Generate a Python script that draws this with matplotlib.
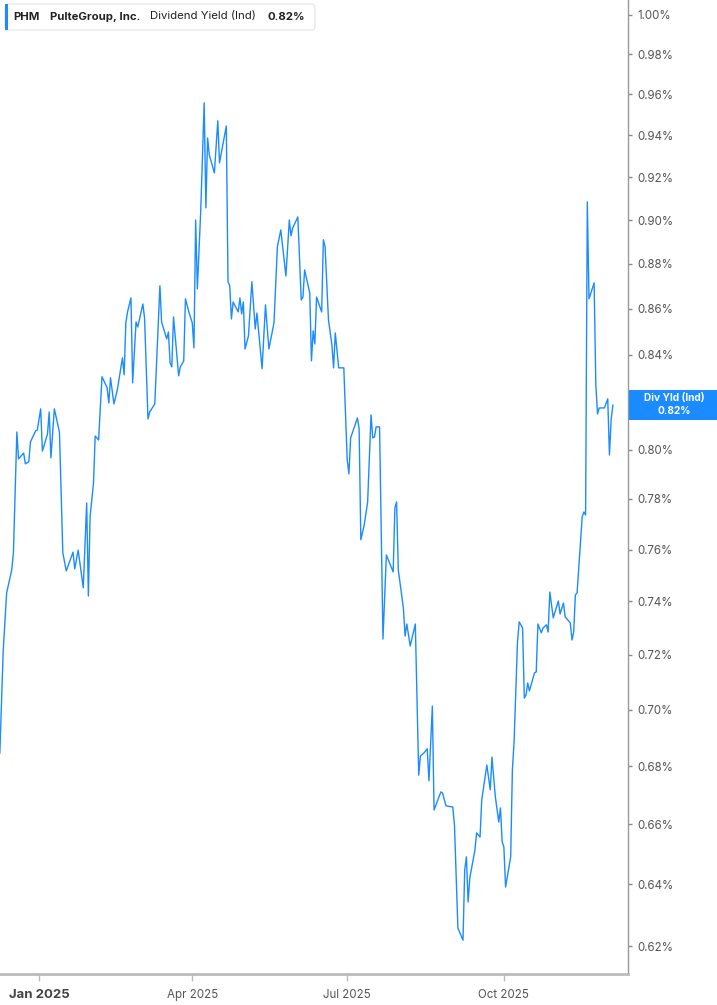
import matplotlib
matplotlib.use("Agg")
import matplotlib.pyplot as plt
from matplotlib.patches import FancyBboxPatch, Rectangle
from matplotlib.ticker import FixedLocator, NullLocator
import pandas as pd

plt.rcParams['font.family'] = ['Inter', 'DejaVu Sans']

# days since 2025-01-01
days = [-23, -21, -19, -16, -15, -13, -12, -9, -8, -6, -5, -2, -1, 1, 2, 5, 6, 7, 9, 12,
        14, 16, 20, 21, 23, 26, 28, 29, 30, 32, 33, 35, 37, 40, 41, 42, 44, 46, 49, 50,
        51, 52, 54, 55, 57, 58, 61, 62, 64, 65, 68, 71, 72, 75, 76, 77, 78, 79, 82, 83,
        85, 86, 88, 90, 91, 92, 93, 95, 97, 98, 99, 100, 103, 105, 106, 110, 111, 112, 113, 114,
        117, 118, 119, 120, 121, 123, 125, 127, 128, 131, 133, 135, 138, 140, 142, 145, 147, 148, 149, 152,
        154, 155, 156, 159, 160, 161, 162, 163, 166, 167, 168, 170, 172, 173, 174, 176, 179, 181, 182, 183,
        187, 188, 189, 191, 193, 195, 196, 197, 198, 200, 202, 204, 208, 209, 210, 211, 214, 215, 216, 218,
        221, 223, 224, 226, 228, 229, 231, 232, 236, 237, 239, 243, 244, 246, 249, 250, 251, 252, 253, 256,
        257, 259, 260, 263, 265, 266, 268, 270, 271, 272, 273, 274, 277, 278, 279, 281, 282, 284, 285, 286,
        287, 288, 291, 292, 293, 295, 296, 298, 299, 300, 302, 305, 306, 308, 309, 312, 313, 314, 315, 316,
        319, 320, 321, 322, 323, 326, 327, 328, 329, 332, 334, 335, 336, 337]

# dividend yield, percent
div_yield = [0.6846, 0.7218, 0.7433, 0.7521, 0.7590, 0.8073, 0.7962, 0.7986, 0.7942, 0.7950,
             0.8032, 0.8077, 0.8081, 0.8169, 0.7994, 0.8065, 0.8156, 0.7966, 0.8169, 0.8073,
             0.7587, 0.7517, 0.7590, 0.7525, 0.7598, 0.7452, 0.7784, 0.7421, 0.7729, 0.7864,
             0.8056, 0.8040, 0.8305, 0.8258, 0.8194, 0.8300, 0.8190, 0.8249, 0.8386, 0.8313,
             0.8538, 0.8586, 0.8648, 0.8279, 0.8542, 0.8520, 0.8621, 0.8559, 0.8127, 0.8156,
             0.8190, 0.8702, 0.8542, 0.8468, 0.8498, 0.8364, 0.8347, 0.8564, 0.8309, 0.8347,
             0.8373, 0.8644, 0.8586, 0.8538, 0.8429, 0.9001, 0.8688, 0.9048, 0.9559, 0.9057,
             0.9388, 0.9307, 0.9221, 0.9471, 0.9269, 0.9446, 0.8720, 0.8702, 0.8555, 0.8630,
             0.8586, 0.8648, 0.8577, 0.8630, 0.8424, 0.8481, 0.8720, 0.8511, 0.8581, 0.8339,
             0.8617, 0.8424, 0.8538, 0.8878, 0.8955, 0.8746, 0.9001, 0.8928, 0.8964, 0.9015,
             0.8639, 0.8652, 0.8773, 0.8670, 0.8373, 0.8503, 0.8446, 0.8652, 0.8586, 0.8910,
             0.8878, 0.8551, 0.8442, 0.8343, 0.8494, 0.8343, 0.8343, 0.7958, 0.7901, 0.8048,
             0.8131, 0.8086, 0.7638, 0.7697, 0.7788, 0.8144, 0.8048, 0.8052, 0.8094, 0.8094,
             0.7259, 0.7579, 0.7513, 0.7764, 0.7788, 0.7521, 0.7375, 0.7270, 0.7315, 0.7233,
             0.7315, 0.6769, 0.6836, 0.6846, 0.6861, 0.6749, 0.7013, 0.6649, 0.6711, 0.6707,
             0.6663, 0.6659, 0.6597, 0.6258, 0.6219, 0.6447, 0.6491, 0.6342, 0.6421, 0.6514,
             0.6571, 0.6557, 0.6683, 0.6804, 0.6718, 0.6832, 0.6694, 0.6608, 0.6656, 0.6541,
             0.6524, 0.6391, 0.6491, 0.6787, 0.6885, 0.7248, 0.7323, 0.7300, 0.7042, 0.7053,
             0.7097, 0.7068, 0.7134, 0.7137, 0.7315, 0.7282, 0.7300, 0.7312, 0.7285, 0.7436,
             0.7338, 0.7402, 0.7353, 0.7394, 0.7342, 0.7319, 0.7255, 0.7285, 0.7425, 0.7433,
             0.7729, 0.7748, 0.7736, 0.9085, 0.8644, 0.8715, 0.8271, 0.8148, 0.8173, 0.8173,
             0.8211, 0.7978, 0.8123, 0.8185]

y_ticks = [0.62, 0.64, 0.66, 0.68, 0.70, 0.72, 0.74, 0.76, 0.78, 0.80,
           0.82, 0.84, 0.86, 0.88, 0.90, 0.92, 0.94, 0.96, 0.98, 1.00]
x_ticks = ['2025-01-01', '2025-04-01', '2025-07-01', '2025-10-01']
x_labels = ['Jan 2025', 'Apr 2025', 'Jul 2025', 'Oct 2025']
last_label = '0.82%'

base = pd.Timestamp('2025-01-01')
dates = base + pd.to_timedelta(days, unit='D')

W, H = 717, 1005
fig = plt.figure(figsize=(W / 100, H / 100), dpi=100)
ax = fig.add_axes([0, 31 / H, 628 / W, 974 / H])

blue = '#1a8cff'
ax.plot(dates, div_yield, color=blue, lw=1.0)

ax.set_yscale('log')
ax.set_ylim(0.6112, 1.0077)
ax.set_xlim(base + pd.Timedelta(days=-22.9), base + pd.Timedelta(days=345.9))

# the 0.82% tick label sits behind the last-value box, so leave it blank
ax.yaxis.set_major_locator(FixedLocator(y_ticks))
ax.yaxis.set_minor_locator(NullLocator())
ax.set_yticklabels(['' if f'{t:.2f}%' == last_label else f'{t:.2f}%' for t in y_ticks])
ax.yaxis.tick_right()
ax.tick_params(axis='y', which='major', length=3, width=1, color='#888888',
               labelsize=8.3, labelcolor='#555555', pad=4)

ax.set_xticks(pd.to_datetime(x_ticks))
ax.set_xticklabels(x_labels)
ax.tick_params(axis='x', length=5, width=1, color='#bbbbbb', labelsize=8.3,
               labelcolor='#555555', pad=6)
xl = ax.get_xticklabels()
xl[0].set_fontweight('bold')
xl[0].set_fontsize(9.5)
xl[0].set_color('#444444')

for s in ['top', 'left']:
    ax.spines[s].set_visible(False)
ax.spines['right'].set_color('#999999')
ax.spines['right'].set_linewidth(1)
ax.spines['bottom'].set_color('#bbbbbb')
ax.spines['bottom'].set_linewidth(2)

# legend box at top left
fig.patches.append(FancyBboxPatch((5 / W, 1 - 30 / H), 310 / W, 26 / H,
                                  boxstyle='round,pad=0,rounding_size=0.004',
                                  transform=fig.transFigure, facecolor='white',
                                  edgecolor='#e4e4e4', lw=0.8, zorder=5))
fig.patches.append(Rectangle((5 / W, 1 - 30 / H), 3 / W, 26 / H,
                             transform=fig.transFigure, facecolor=blue,
                             edgecolor='none', zorder=6))
ty = 1 - 16.5 / H
fs = 8.2
fig.text(13 / W, ty, 'PHM', fontsize=fs, fontweight='bold', color='#222222', va='center', zorder=7)
fig.text(50 / W, ty, 'PulteGroup, Inc.', fontsize=fs, fontweight='bold', color='#222222', va='center', zorder=7)
fig.text(150 / W, ty, 'Dividend Yield (Ind)', fontsize=fs, color='#222222', va='center', zorder=7)
fig.text(267 / W, ty, last_label, fontsize=fs, fontweight='bold', color='#222222', va='center', zorder=7)

# last value label on the right axis
fig.patches.append(Rectangle((629 / W, 1 - 420 / H), 88 / W, 30 / H,
                             transform=fig.transFigure, facecolor=blue,
                             edgecolor='none', zorder=6))
fig.text(674 / W, 1 - 398.5 / H, 'Div Yld (Ind)', fontsize=7.3, fontweight='bold',
         color='white', ha='center', va='center', zorder=7)
fig.text(674 / W, 1 - 411.5 / H, last_label, fontsize=7.3, fontweight='bold',
         color='white', ha='center', va='center', zorder=7)

fig.savefig('out.png', dpi=100)
